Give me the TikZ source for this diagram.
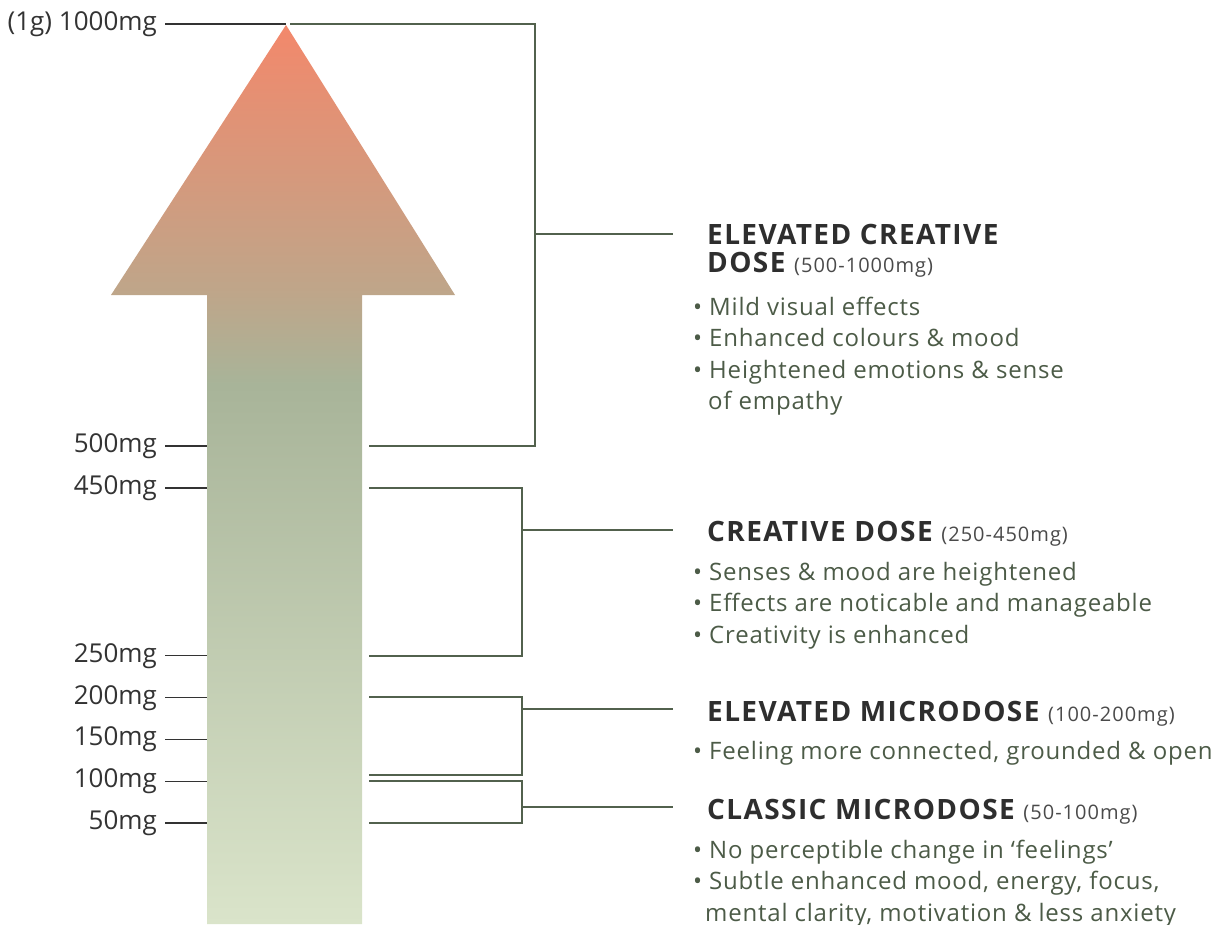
\documentclass[tikz,border=0pt]{standalone}
\usepackage{fontspec}
\setmainfont{Open Sans}
\newfontfamily\headfont{Open Sans}[LetterSpace=5]
\newfontfamily\bodyfont{Open Sans}[LetterSpace=3.3]
\newfontfamily\spanfont{Open Sans}[LetterSpace=5]
\usetikzlibrary{positioning}
\definecolor{inkdark}{HTML}{333333}
\definecolor{inkhead}{HTML}{2E2E2E}
\definecolor{inkrange}{HTML}{4A4A4A}
\definecolor{sage}{HTML}{4C5B47}
\definecolor{bracketgreen}{HTML}{52614D}
\definecolor{gradbot}{HTML}{DAE4CA}
\definecolor{gradmid}{HTML}{A8B499}
\definecolor{gradtan}{HTML}{BEA68A}
\definecolor{gradtip}{HTML}{F3886B}
\pgfdeclareverticalshading{dosegrad}{100bp}{color(0bp)=(gradbot); color(25bp)=(gradbot); color(55bp)=(gradmid); color(60bp)=(gradtan); color(75bp)=(gradtip); color(100bp)=(gradtip)}
\newcommand{\dosespan}[1]{{\spanfont\fontsize{20}{22}\selectfont\mdseries\color{inkrange}#1}}

\begin{document}
\begin{tikzpicture}[
    x=1pt, y=-1pt,
    dose/.style={anchor=mid east, inner xsep=8pt, inner ysep=0pt, yshift=-4pt, text=inkdark,
                font=\fontsize{26}{30}\selectfont},
    tick/.style={draw=inkdark, line width=1.3pt},
    bracket/.style={draw=bracketgreen, line width=2pt},
    head/.style={anchor=base west, inner sep=0pt, text=inkhead,
                font=\headfont\fontsize{28}{32}\selectfont\bfseries},
    bullets/.style={inner sep=0pt, align=left, text=sage,
                font=\bodyfont\fontsize{24}{31.4}\selectfont}
]
    \useasboundingbox (0,0) rectangle (1223,924);

    % big arrow
    \shade[shading=dosegrad] (207,924) -- (207,295) -- (111,295) -- (286,25)
        -- (455,295) -- (362,295) -- (362,924) -- cycle;

    % dose scale
    \coordinate (s1000) at (286,24);
    \coordinate (r1000) at (290,24);
    \node[dose] (l1000) at (165,24) {(1g) 1000mg};
    \draw[tick] (l1000.east |- s1000) -- (s1000);
    \foreach \mg in {500,450,250,200,150,100,50} {
        \coordinate (s\mg) at (207,{865-0.838*\mg});
        \coordinate (r\mg) at (369,{865-0.838*\mg});
        \node[dose] (l\mg) at (165,{865-0.838*\mg}) {\mg mg};
        \draw[tick] (l\mg.east |- s\mg) -- (s\mg);
    }
    \coordinate (r100e) at (369,775);

    % brackets
    \coordinate (k1) at (535,234);
    \coordinate (k2) at (522,530);
    \coordinate (k3) at (522,709);
    \coordinate (k4) at (522,807);
    \draw[bracket] (r1000) -| (k1) |- (r500);
    \draw[bracket] (r450) -| (k2) |- (r250);
    \draw[bracket] (r200) -| (k3) |- (r100e);
    \draw[bracket] (r100) -| (k4) |- (r50);
    \foreach \k/\ylev in {1/234,2/530,3/709,4/807} {
        \coordinate (e\k) at (673,\ylev);
        \draw[bracket] (k\k) -- (e\k);
    }

    % dose levels
    \node[head] (h1) at ([xshift=34pt,yshift=-10pt]e1) {ELEVATED CREATIVE};
    \node[head, below=28pt of h1.base west, anchor=base west] (h1b) {DOSE \dosespan{(500-1000mg)}};
    \node[bullets, below right=25pt and -14pt of h1b.base west] (c1)
        {• Mild visual effects\\• Enhanced colours \& mood\\• Heightened emotions \& sense\\\hspace{15pt}of empathy};

    \node[head] (h2) at ([xshift=34pt,yshift=-11pt]e2) {CREATIVE DOSE \dosespan{(250-450mg)}};
    \node[bullets, below right=21pt and -14pt of h2.base west] (c2)
        {• Senses \& mood are heightened\\• Effects are noticable and manageable\\• Creativity is enhanced};

    \node[head] (h3) at ([xshift=34pt,yshift=-12pt]e3) {ELEVATED MICRODOSE \dosespan{(100-200mg)}};
    \node[bullets, below right=20pt and -14pt of h3.base west] (c3)
        {• Feeling more connected, grounded \& open};

    \node[head] (h4) at ([xshift=34pt,yshift=-12pt]e4) {CLASSIC MICRODOSE \dosespan{(50-100mg)}};
    \node[bullets, below right=21pt and -14pt of h4.base west] (c4)
        {• No perceptible change in ‘feelings’\\• Subtle enhanced mood, energy, focus,\\\hspace{12pt}mental clarity, motivation \& less anxiety};
\end{tikzpicture}
\end{document}
